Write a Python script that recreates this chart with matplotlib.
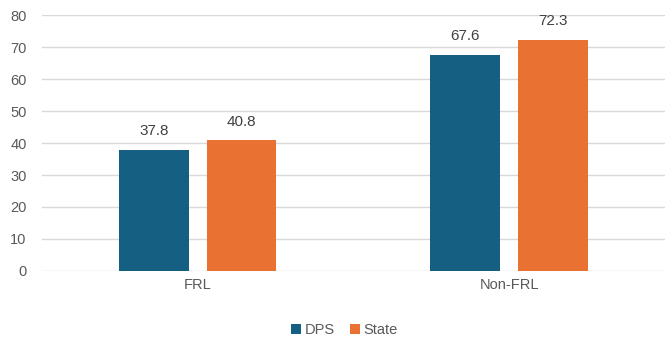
import matplotlib.pyplot as plt
import numpy as np

plt.rcParams['font.family'] = ['Liberation Sans', 'DejaVu Sans']

categories = ["FRL", "Non-FRL"]
dps = [37.8, 67.6]
state = [40.8, 72.3]

blue = "#156082"
orange = "#E97132"
grey = "#595959"

fig = plt.figure(figsize=(6.65, 3.45), dpi=100)
ax = fig.add_axes([0.063, 0.2145, 0.937, 0.742])

x = np.arange(len(categories))
w = 0.224
off = 0.141
b1 = ax.bar(x - off, dps, w, color=blue, label="DPS", zorder=3)
b2 = ax.bar(x + off, state, w, color=orange, label="State", zorder=3)

# value labels above each bar
for bars in (b1, b2):
    for r in bars:
        ax.text(r.get_x() + r.get_width() / 2, r.get_height() + 5.9,
                f"{r.get_height():.1f}", ha="center", va="center",
                fontsize=11, color="#404040")

ax.set_xlim(-0.5, 1.5)
ax.set_ylim(0, 80)
ax.set_yticks(range(0, 81, 10))
ax.set_xticks(x)
ax.set_xticklabels(categories)
ax.grid(axis="y", color="#d9d9d9", linewidth=1, zorder=0)
for s in ax.spines.values():
    s.set_visible(False)
ax.tick_params(length=0, labelsize=10.5, colors=grey)
ax.tick_params(axis="y", pad=11)
ax.tick_params(axis="x", pad=5)

fig.legend(loc="center", bbox_to_anchor=(0.518, 0.043), ncol=2, frameon=False,
           fontsize=10.5, handlelength=0.7, handleheight=0.7, columnspacing=1.0,
           handletextpad=0.25, labelcolor=grey)

fig.savefig("out.png", dpi=100)
